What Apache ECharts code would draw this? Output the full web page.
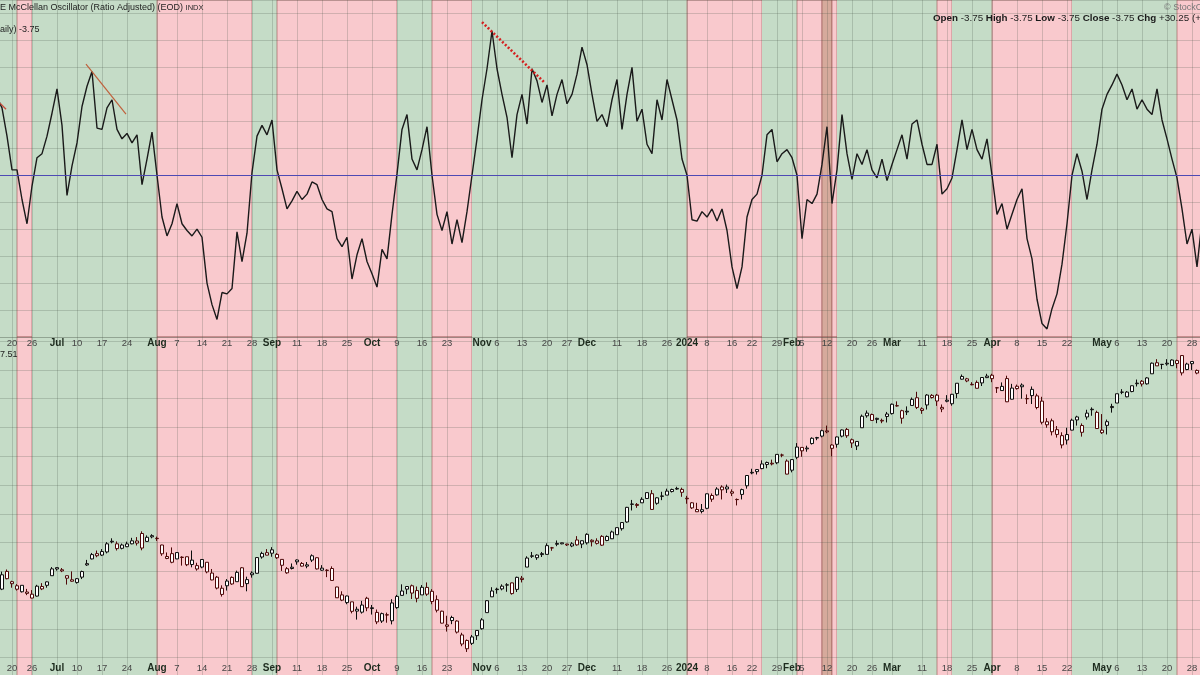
<!DOCTYPE html>
<html><head><meta charset="utf-8">
<script src="https://cdn.jsdelivr.net/npm/echarts@6/dist/echarts.min.js"></script>
<style>html,body{margin:0;padding:0;background:#fff;overflow:hidden}
body{position:relative;width:1200px;height:675px}
#c{position:absolute;left:-3px;top:0;width:1210px;height:700px}</style>
</head><body><div id="c"></div>
<script>
// ---------------- DATA ----------------
const holidays = ['2023-06-19','2023-07-04','2023-09-04','2023-11-23','2023-12-25','2024-01-01','2024-01-15','2024-02-19','2024-03-29','2024-05-27'];
const firstDay = '2023-06-14', lastDay = '2024-05-31';

const tickLabels = [['2023-06-20','20'],['2023-06-26','26'],['2023-07-03','Jul'],['2023-07-10','10'],['2023-07-17','17'],['2023-07-24','24'],['2023-08-01','Aug'],['2023-08-07','7'],['2023-08-14','14'],['2023-08-21','21'],['2023-08-28','28'],['2023-09-01','Sep'],['2023-09-11','11'],['2023-09-18','18'],['2023-09-25','25'],['2023-10-02','Oct'],['2023-10-09','9'],['2023-10-16','16'],['2023-10-23','23'],['2023-11-01','Nov'],['2023-11-06','6'],['2023-11-13','13'],['2023-11-20','20'],['2023-11-27','27'],['2023-12-01','Dec'],['2023-12-11','11'],['2023-12-18','18'],['2023-12-26','26'],['2024-01-02','2024'],['2024-01-08','8'],['2024-01-16','16'],['2024-01-22','22'],['2024-01-29','29'],['2024-02-01','Feb'],['2024-02-05','5'],['2024-02-12','12'],['2024-02-20','20'],['2024-02-26','26'],['2024-03-01','Mar'],['2024-03-11','11'],['2024-03-18','18'],['2024-03-25','25'],['2024-04-01','Apr'],['2024-04-08','8'],['2024-04-15','15'],['2024-04-22','22'],['2024-05-01','May'],['2024-05-06','6'],['2024-05-13','13'],['2024-05-20','20'],['2024-05-28','28']];
const boldLabels = ['Jul','Aug','Sep','Oct','Nov','Dec','2024','Feb','Mar','Apr','May'];

// McClellan Oscillator (ratio adjusted), one value per trading day
const mcclellan = [
 58, 50, 29, 4, 4, -18, -36, -8, 13, 16,
 29, 46, 64, 37, -15, 7, 24, 51, 66, 77,
 35, 34, 50, 56, 34, 27, 31, 24, 30, -7,
 12, 32, 0, -31, -45, -36, -21, -36, -41, -45,
 -40, -46, -80, -96, -107, -87, -88, -84, -42, -64,
 -43, 2, 29, 37, 30, 41, 4, -10, -25, -19,
 -12, -18, -14, -5, -7, -18, -25, -27, -47, -53,
 -46, -77, -59, -47, -64, -73, -83, -55, -62, -29,
 1, 34, 45, 12, 4, 19, 36, 0, -29, -41,
 -27, -51, -33, -50, -27, 0, 27, 56, 79, 107,
 79, 60, 43, 13, 45, 60, 38, 79, 70, 54,
 67, 44, 60, 71, 53, 60, 75, 95, 82, 60,
 40, 45, 36, 56, 71, 34, 60, 80, 40, 49,
 23, 16, 56, 41, 71, 56, 41, 12, 0, -33,
 -34, -27, -31, -25, -34, -25, -41, -68, -84, -68,
 -31, -18, -14, 0, 30, 34, 10, 16, 19, 13,
 0, -47, -18, -21, -14, 8, 36, -21, 4, 45,
 16, -3, 16, 8, 19, 4, -2, 12, -4, 8,
 19, 30, 12, 38, 41, 23, 8, 8, 23, -14,
 -10, -2, 19, 41, 19, 34, 19, 12, 27, 0,
 -29, -21, -40, -29, -18, -10, -47, -62, -92, -110,
 -114, -99, -88, -66, -36, 0, 16, 3, -18, 4,
 23, 49, 60, 67, 75, 67, 56, 64, 49, 56,
 49, 45, 64, 41, 27, 12, -2, -25, -51, -40,
 -68, -34, -3.75
];

// S&P 500 daily candles
const spxOpen = [
 4366,4366,4440,4397,4380,4355,4354,4345,4337,4367,4382,4422,
 4450,4442,4422,4405,4394,4416,4467,4492,4514,4508,4521,4563,4555,4550,4543,4555,4558,4598,4565,4584,
 4578,4550,4494,4514,4492,4498,4501,4487,4450,4458,4478,4433,4416,4344,4380,4415,4397,4455,4389,4426,4432,4500,4518,
 4530,4511,4490,4434,4452,4480,4473,4462,4487,4497,4445,4445,4452,4375,4342,4310,4313,4282,4270,4328,
 4285,4269,4233,4259,4234,4289,4340,4366,4380,4360,4342,4345,4357,4322,4274,4211,4235,4233,4175,4152,4140,4172,
 4201,4268,4334,4364,4367,4384,4392,4365,4406,4458,4505,4497,4510,4511,4538,4553,4555,4554,4546,4571,4554,
 4559,4564,4557,4586,4569,4576,4593,4618,4646,4721,4715,4726,4744,4764,4724,4753,4758,4773,4786,4782,
 4745,4726,4698,4690,4703,4741,4759,4792,4792,4772,4740,4761,4797,4853,4856,4888,4886,4888,4893,4925,4900,
 4862,4916,4957,4951,4973,4996,5004,5026,4967,4970,5004,5032,4989,4963,5039,5100,5094,5074,5067,5086,
 5098,5130,5110,5108,5132,5164,5111,5134,5174,5175,5124,5154,5139,5182,5253,5243,5220,5228,5226,5248,
 5258,5205,5194,5244,5158,5212,5217,5160,5173,5172,5150,5064,5068,5031,5006,4988,5029,5084,5020,5084,5114,5103,
 5029,5049,5123,5142,5187,5168,5190,5225,5233,5222,5264,5310,5303,5305,5298,5319,5340,5282,5315,5278,5259,5244
];
const spxHigh = [
 4391,4439,4448,4401,4387,4382,4367,4362,4384,4391,4398,4458,
 4457,4454,4423,4440,4412,4443,4488,4517,4527,4533,4562,4578,4565,4556,4564,4580,4583,4607,4590,4595,
 4585,4551,4519,4540,4520,4503,4502,4527,4476,4490,4478,4450,4421,4382,4408,4419,4443,4458,4418,4440,4500,4522,4533,
 4541,4516,4490,4458,4473,4490,4479,4479,4511,4498,4466,4449,4461,4376,4357,4339,4313,4293,4317,4334,
 4300,4281,4268,4268,4324,4342,4386,4378,4385,4377,4383,4394,4366,4340,4276,4255,4255,4236,4184,4156,4175,4194,
 4245,4320,4374,4372,4386,4391,4393,4418,4421,4503,4521,4511,4521,4557,4542,4569,4560,4555,4562,4587,4569,
 4599,4574,4578,4591,4590,4610,4623,4644,4709,4738,4725,4749,4769,4779,4749,4772,4785,4785,4793,4789,
 4755,4729,4726,4721,4765,4765,4791,4799,4802,4782,4744,4785,4842,4868,4867,4903,4898,4906,4928,4931,4907,
 4906,4975,4957,4964,4999,5001,5031,5048,4970,5002,5032,5038,4994,4983,5094,5111,5098,5081,5077,5105,
 5140,5149,5114,5128,5165,5189,5124,5179,5179,5180,5136,5175,5180,5225,5261,5247,5229,5236,5249,5264,
 5264,5209,5228,5256,5222,5219,5224,5178,5211,5181,5168,5079,5077,5046,5020,5039,5077,5089,5057,5114,5124,5110,
 5096,5073,5139,5181,5200,5192,5215,5240,5238,5250,5311,5325,5305,5325,5324,5323,5342,5310,5315,5282,5260,5280
];
const spxLow = [
 4340,4362,4407,4372,4360,4352,4341,4328,4335,4362,4372,4422,
 4443,4437,4385,4397,4389,4408,4463,4490,4499,4504,4515,4557,4527,4532,4541,4553,4548,4528,4563,4578,
 4567,4505,4491,4474,4491,4464,4462,4457,4443,4453,4432,4403,4365,4335,4360,4384,4397,4375,4357,4414,4431,4493,4507,
 4501,4492,4442,4430,4448,4468,4460,4453,4479,4448,4442,4416,4402,4329,4316,4303,4265,4239,4264,4274,
 4260,4220,4225,4226,4219,4284,4339,4345,4325,4311,4342,4338,4303,4269,4223,4189,4220,4181,4128,4104,4133,4154,
 4197,4268,4334,4347,4361,4355,4343,4354,4394,4458,4496,4488,4500,4511,4526,4545,4553,4546,4541,4547,4537,
 4552,4544,4552,4546,4566,4575,4593,4610,4643,4694,4705,4725,4743,4698,4718,4737,4758,4769,4780,4751,
 4722,4700,4688,4682,4699,4730,4756,4740,4767,4754,4715,4740,4785,4845,4844,4866,4870,4882,4887,4916,4845,
 4853,4908,4918,4939,4969,4987,4999,5016,4920,4956,4999,4997,4955,4946,5039,5081,5068,5058,5058,5061,
 5094,5127,5056,5092,5131,5117,5097,5115,5161,5130,5104,5145,5131,5162,5240,5229,5216,5203,5213,5246,
 5229,5184,5194,5146,5157,5198,5160,5138,5138,5116,5053,5039,5007,4998,4953,4969,5028,5048,5002,5073,5089,5035,
 5013,5011,5102,5142,5179,5166,5187,5211,5211,5219,5264,5297,5283,5298,5297,5287,5257,5279,5280,5262,5223,5191
];
const spxClose = [
 4372.6,4425.8,4409.6,4388.7,4365.7,4381.9,4348.3,4328.8,4378.4,4376.9,4396.4,4450.4,
 4455.6,4446.8,4411.6,4399.0,4409.5,4439.3,4472.2,4510.0,4505.4,4522.8,4555.0,4565.7,4534.9,4536.3,4554.6,4567.5,4566.8,4537.4,4582.2,4589.0,
 4576.7,4513.4,4501.9,4478.0,4518.4,4499.4,4467.7,4468.8,4464.1,4489.7,4437.9,4404.3,4370.4,4369.7,4399.8,4387.6,4436.0,4376.3,4405.7,4433.3,4497.6,4514.9,4507.7,
 4515.8,4496.8,4465.5,4451.1,4457.5,4487.5,4461.9,4467.4,4505.1,4450.3,4453.5,4444.0,4402.2,4330.0,4320.1,4337.4,4273.5,4274.5,4299.7,4288.1,
 4288.4,4229.5,4263.8,4258.2,4308.5,4335.7,4358.2,4377.0,4349.6,4327.8,4373.6,4373.2,4314.6,4278.0,4224.2,4217.0,4247.7,4186.8,4137.2,4117.4,4166.8,4193.8,
 4237.9,4317.8,4358.3,4366.0,4378.4,4382.8,4347.4,4415.2,4411.6,4495.7,4502.9,4508.2,4514.0,4547.4,4538.2,4556.6,4559.3,4550.4,4554.9,4550.6,4567.8,
 4594.6,4569.8,4567.2,4549.3,4585.6,4604.4,4622.4,4643.7,4707.1,4719.6,4719.2,4740.6,4768.4,4698.4,4746.8,4754.6,4774.8,4781.6,4783.4,4769.8,
 4742.8,4704.8,4688.7,4697.2,4763.5,4756.5,4783.5,4780.2,4783.8,4766.0,4739.2,4780.9,4839.8,4850.4,4864.6,4868.6,4894.2,4891.0,4927.9,4925.0,4845.7,
 4906.2,4958.6,4942.8,4954.2,4995.1,4997.9,5026.6,5021.8,4953.2,5000.6,5029.7,5005.6,4975.5,4981.8,5087.0,5088.8,5069.5,5078.2,5069.8,5096.3,
 5137.1,5131.0,5078.7,5104.8,5157.4,5123.7,5117.9,5175.3,5165.3,5150.5,5117.1,5149.4,5178.5,5224.6,5241.5,5234.2,5218.2,5203.6,5248.5,5254.4,
 5243.8,5205.8,5211.5,5147.2,5204.3,5202.4,5209.9,5160.6,5199.1,5123.4,5061.8,5051.4,5022.2,5011.1,4967.2,5010.6,5070.6,5071.6,5048.4,5100.0,5116.2,5035.7,
 5018.4,5064.2,5127.8,5180.7,5187.7,5187.7,5214.1,5222.7,5221.4,5246.7,5308.2,5297.1,5303.3,5308.1,5321.4,5307.0,5267.8,5304.7,5306.0,5267.0,5235.5,5277.5
];

// background regime bands: [from, to, kind]
const bands = [
 ['2023-06-14','2023-06-21','g'],['2023-06-21','2023-06-26','p'],['2023-06-26','2023-08-01','g'],
 ['2023-08-01','2023-08-28','p'],['2023-08-28','2023-09-05','g'],['2023-09-05','2023-10-09','p'],
 ['2023-10-09','2023-10-18','g'],['2023-10-18','2023-10-30','p'],['2023-10-30','2024-01-02','g'],
 ['2024-01-02','2024-01-24','p'],['2024-01-24','2024-02-02','g'],['2024-02-02','2024-02-09','p'],
 ['2024-02-09','2024-02-13','b'],['2024-02-13','2024-02-14','p'],['2024-02-14','2024-03-14','g'],
 ['2024-03-14','2024-03-19','p'],['2024-03-19','2024-04-01','g'],['2024-04-01','2024-04-23','p'],
 ['2024-04-23','2024-05-22','g'],['2024-05-22','2024-05-31','p']
];

// hand-drawn trend lines on the oscillator: [[dayIndex, value], [dayIndex, value]]
const trendLeft = [[0.6, 53.5], [1.8, 49.0]];
const trendJul = [[17.8, 82.5], [25.8, 45.4]];
const trendNov = [[97.0, 113.6], [109.6, 68.4]];

// ---------------- BUILD ----------------
const dates = (function () {
  const out = [];
  let t = Date.parse(firstDay + 'T00:00:00Z');
  const end = Date.parse(lastDay + 'T00:00:00Z');
  while (t <= end) {
    const d = new Date(t), wd = d.getUTCDay(), s = d.toISOString().slice(0, 10);
    if (wd !== 0 && wd !== 6 && holidays.indexOf(s) < 0) out.push(s);
    t += 86400000;
  }
  return out;
})();
const labelMap = new Map(tickLabels);
const FONT = '"Liberation Sans", Arial, sans-serif';
const DX = 3; // chart canvas starts 3px left of the page

const bandColor = { g: '#c5dcc7', p: '#f9c9cd', b: '#d6aa9c' };
const bandBorder = { g: 'rgba(0,0,0,0)', p: 'rgba(150,85,80,0.6)', b: 'rgba(150,85,80,0.6)' };
const bandData = bands.map(b => [
  { xAxis: b[0], itemStyle: { color: bandColor[b[2]], borderColor: bandBorder[b[2]], borderWidth: 1 } },
  { xAxis: b[1] }
]);

const candles = dates.map((d, i) => {
  const o = spxOpen[i], c = spxClose[i], l = spxLow[i], h = spxHigh[i];
  const prev = i > 0 ? spxClose[i - 1] : o;
  const col = c >= prev ? '#0d0d0d' : '#4e0808';
  return { value: [o, c, l, h], itemStyle: { color: '#ffffff', color0: col, borderColor: col, borderColor0: col, borderWidth: 1 } };
});

const gridLine = { show: true, lineStyle: { color: 'rgba(70,80,70,0.22)', width: 1 } };
function xAx(gridIndex, offset, margin) {
  return {
    type: 'category', gridIndex, data: dates, boundaryGap: false, offset, z: 2,
    axisLine: { show: false }, axisTick: { show: false },
    axisLabel: {
      show: true, margin, showMinLabel: true, showMaxLabel: true, hideOverlap: false,
      interval: (i, v) => labelMap.has(v),
      formatter: v => { const t = labelMap.get(v); if (!t) return ''; return boldLabels.indexOf(t) >= 0 ? '{m|' + t + '}' : '{d|' + t + '}'; },
      rich: {
        m: { fontFamily: FONT, fontWeight: 'bold', fontSize: 10, color: '#1d2b1e', lineHeight: 12 },
        d: { fontFamily: FONT, fontSize: 9.5, color: '#474747', lineHeight: 12 }
      }
    },
    splitLine: Object.assign({ interval: (i, v) => labelMap.has(v) }, gridLine)
  };
}

const chart = echarts.init(document.getElementById('c'), null, { renderer: 'canvas' });
chart.setOption({
  animation: false,
  backgroundColor: '#ffffff',
  grid: [
    { left: 0, right: 0, top: 0, height: 337 },
    { left: 0, right: 0, top: 337, height: 349.5 }
  ],
  xAxis: [
    xAx(0, 0, 0),
    xAx(1, -25.5, 1.5),
    { type: 'value', gridIndex: 0, min: 0, max: 242, show: false }
  ],
  yAxis: [
    { type: 'value', gridIndex: 0, min: -120, max: 130, interval: 20, z: 2,
      axisLine: { show: false }, axisTick: { show: false }, axisLabel: { show: false }, splitLine: gridLine },
    { type: 'value', gridIndex: 1, min: 3960, max: 5417.4, interval: 120, z: 2,
      axisLine: { show: false }, axisTick: { show: false }, axisLabel: { show: false }, splitLine: gridLine }
  ],
  series: [
    { type: 'line', xAxisIndex: 0, yAxisIndex: 0, data: [], z: 0, silent: true,
      markArea: { silent: true, label: { show: false }, data: bandData } },
    { type: 'line', xAxisIndex: 1, yAxisIndex: 1, data: [], z: 0, silent: true,
      markArea: { silent: true, label: { show: false }, data: bandData } },
    { name: 'McClellan', type: 'line', xAxisIndex: 0, yAxisIndex: 0, data: mcclellan, z: 3,
      symbol: 'none', lineStyle: { color: '#1a1a1a', width: 1.4 },
      markLine: { silent: true, symbol: ['none', 'none'], label: { show: false },
        lineStyle: { color: '#4e4ab4', width: 1.2, type: 'solid' }, data: [{ yAxis: 0 }] } },
    { name: 'SPX', type: 'candlestick', xAxisIndex: 1, yAxisIndex: 1, data: candles, z: 3, barWidth: 4 },
    { type: 'line', xAxisIndex: 2, yAxisIndex: 0, data: trendLeft, symbol: 'none', z: 4,
      lineStyle: { color: '#c8503c', width: 1.4 } },
    { type: 'line', xAxisIndex: 2, yAxisIndex: 0, data: trendJul, symbol: 'none', z: 4,
      lineStyle: { color: '#c0603c', width: 1.2 } },
    { type: 'line', xAxisIndex: 2, yAxisIndex: 0, data: trendNov, symbol: 'none', z: 4,
      lineStyle: { color: '#d42020', width: 2.6, type: [2, 2] } }
  ],
  graphic: [
    { type: 'rect', z: 1, silent: true, shape: { x: 0, y: 0, width: 1210, height: 25 }, style: { fill: 'rgba(20,45,35,0.28)' } },
    { type: 'rect', z: 1, silent: true, shape: { x: 0, y: 337, width: 1210, height: 11 }, style: { fill: 'rgba(40,40,40,0.08)' } },
    { type: 'rect', z: 1, silent: true, shape: { x: 0, y: 662, width: 1210, height: 13 }, style: { fill: 'rgba(40,40,40,0.08)' } },
    { type: 'line', z: 1, silent: true, shape: { x1: 0, y1: 337.5, x2: 1210, y2: 337.5 }, style: { stroke: '#6a6a6a', lineWidth: 1, lineDash: [1, 2] } },
    { type: 'line', z: 1, silent: true, shape: { x1: 0, y1: 347.5, x2: 1210, y2: 347.5 }, style: { stroke: '#6a6a6a', lineWidth: 1, lineDash: [1, 2] } },
    { type: 'line', z: 1, silent: true, shape: { x1: 0, y1: 662.5, x2: 1210, y2: 662.5 }, style: { stroke: '#6a6a6a', lineWidth: 1, lineDash: [1, 2] } },
    { type: 'text', z: 20, silent: true, x: DX, y: 8,
      style: { text: 'E McClellan Oscillator (Ratio Adjusted) (EOD) {s|INDX}', font: '9px ' + FONT, fill: '#1e1e1e', verticalAlign: 'middle', textVerticalAlign: 'middle',
        rich: { s: { fontFamily: FONT, fontSize: 7.5, fill: '#2a2a2a', color: '#2a2a2a' } } } },
    { type: 'text', z: 20, silent: true, x: DX, y: 30,
      style: { text: 'aily) -3.75', font: '9px ' + FONT, fill: '#1e1e1e', verticalAlign: 'middle', textVerticalAlign: 'middle' } },
    { type: 'text', z: 20, silent: true, x: 1164 + DX, y: 8,
      style: { text: '\u00a9 StockCharts', font: '9px ' + FONT, fill: '#777777', verticalAlign: 'middle', textVerticalAlign: 'middle' } },
    { type: 'text', z: 20, silent: true, x: 933 + DX, y: 18,
      style: { text: '{b|Open} -3.75 {b|High} -3.75 {b|Low} -3.75 {b|Close} -3.75 {b|Chg} +30.25 (+89.0%)',
        font: '9.8px ' + FONT, fill: '#1e1e1e', verticalAlign: 'middle', textVerticalAlign: 'middle',
        rich: { b: { fontFamily: FONT, fontWeight: 'bold', fontSize: 9.8, fill: '#1a1a1a', color: '#1a1a1a' } } } },
    { type: 'text', z: 20, silent: true, x: DX, y: 355,
      style: { text: '7.51', font: '9px ' + FONT, fill: '#222222', verticalAlign: 'middle', textVerticalAlign: 'middle' } }
  ]
});
</script></body></html>
